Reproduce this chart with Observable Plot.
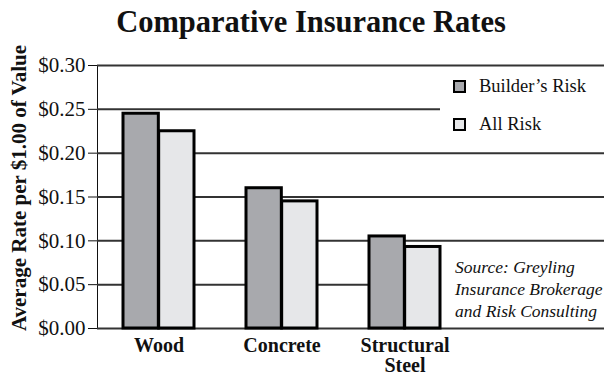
<!DOCTYPE html>
<html><head><meta charset="utf-8">
<script src="https://cdn.jsdelivr.net/npm/d3@7"></script>
<script src="https://cdn.jsdelivr.net/npm/@observablehq/plot@0.6"></script>
<style>
body{margin:0;background:#fff;}
#wrap{position:relative;width:604px;height:375px;font-family:"Liberation Serif","Times New Roman","DejaVu Serif",serif;color:#111;overflow:hidden;background:#fff}
#title{height:44px;line-height:44px;text-align:center;font-weight:bold;font-size:30.5px;padding-left:18px;box-sizing:border-box}
#chart svg{display:block}
#ylabel{position:absolute;left:19px;top:188px;transform:translate(-50%,-50%) rotate(-90deg);white-space:nowrap;font-weight:bold;font-size:21px}
#legend{position:absolute;left:453px;top:77px;font-size:18.5px}
.item{display:flex;align-items:center;height:19px;margin-bottom:18.5px}
.sw{width:9px;height:9px;border:2.5px solid #000;margin-right:13px}
#source{position:absolute;left:455px;top:256px;font-style:italic;font-size:17.5px;line-height:22px;white-space:nowrap}
</style></head>
<body>
<div id="wrap">
  <div id="title">Comparative Insurance Rates</div>
  <div id="chart"></div>
  <div id="ylabel">Average Rate per $1.00 of Value</div>
  <div id="legend"></div>
  <div id="source">Source: Greyling<br>Insurance Brokerage<br>and Risk Consulting</div>
</div>
<script>
const categories = ["Wood", "Concrete", "Structural Steel"];
const categoryLabels = ["Wood", "Concrete", "Structural\nSteel"];
const seriesNames = ["Builder’s Risk", "All Risk"];
const buildersRisk = [0.245, 0.16, 0.105];
const allRisk = [0.225, 0.145, 0.093];
const yTicks = [0, 0.05, 0.10, 0.15, 0.20, 0.25, 0.30];
const colors = ["#a8a9ad", "#e6e7e9"];

const rowsB = categories.map((c, i) => ({category: c, value: buildersRisk[i]}));
const rowsA = categories.map((c, i) => ({category: c, value: allRisk[i]}));

const W = 604, H = 331;
const xRange = [97, 466];
const padIn = 0.42, padOut = 0.21;
const bw = d3.scaleBand().domain(categories).range(xRange).paddingInner(padIn).paddingOuter(padOut).bandwidth();

const chart = Plot.plot({
  width: W, height: H,
  marginLeft: 97, marginRight: 0, marginTop: 21, marginBottom: 47,
  style: {fontFamily: "'Liberation Serif', 'Times New Roman', 'DejaVu Serif', serif", fontSize: "21px", color: "#111", background: "#fff"},
  x: {domain: categories, range: xRange, paddingInner: padIn, paddingOuter: padOut, axis: null},
  y: {domain: [0, 0.30], ticks: yTicks, tickFormat: d => "$" + d.toFixed(2), tickSize: 9, tickPadding: 3, line: true, label: null},
  marks: [
    Plot.ruleY([0, 0.10, 0.15, 0.20, 0.30], {stroke: "#333", strokeWidth: 2}),
    Plot.ruleY([0.05, 0.25], {stroke: "#333", strokeWidth: 2, insetRight: 164}),
    Plot.barY(rowsB, {x: "category", y: "value", fill: colors[0], stroke: "#000", strokeWidth: 3, insetRight: bw / 2}),
    Plot.barY(rowsA, {x: "category", y: "value", fill: colors[1], stroke: "#000", strokeWidth: 3, insetLeft: bw / 2}),
    Plot.text(categories, {x: d => d, frameAnchor: "bottom", text: (d, i) => categoryLabels[i], lineAnchor: "top", dy: 9, fontWeight: "bold", fontSize: 20, lineHeight: 1.0, fill: "#111"})
  ]
});
document.getElementById("chart").appendChild(chart);

const legend = document.getElementById("legend");
seriesNames.forEach((s, i) => {
  const it = document.createElement("div");
  it.className = "item";
  it.innerHTML = `<div class="sw" style="background:${colors[i]}"></div><span>${s}</span>`;
  legend.appendChild(it);
});
</script>
</body></html>
